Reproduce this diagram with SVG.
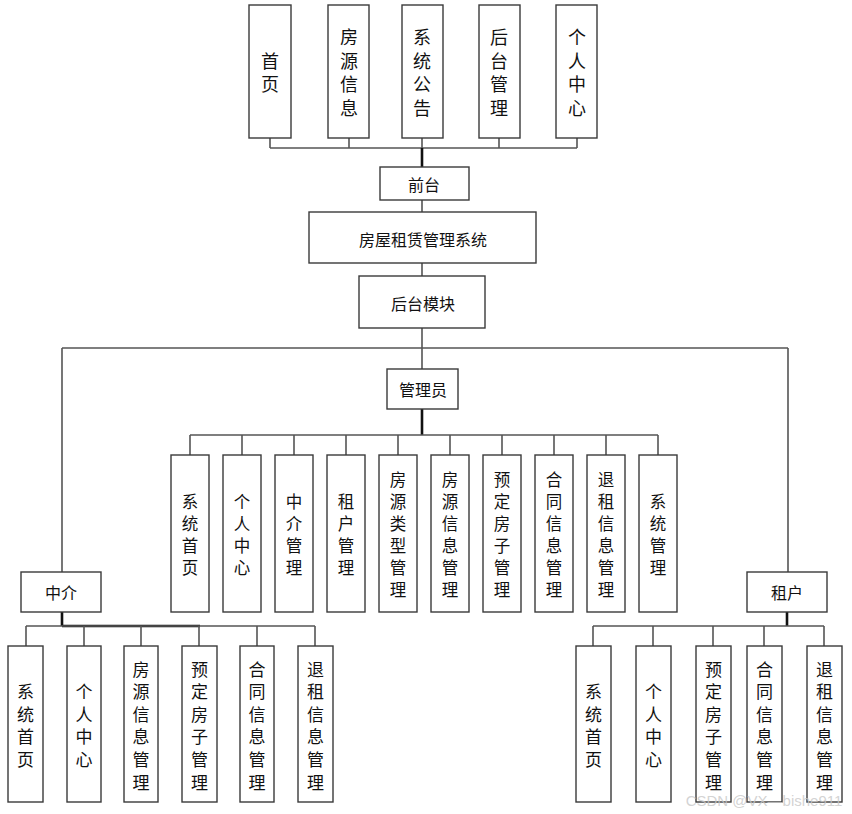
<svg xmlns="http://www.w3.org/2000/svg" width="852" height="814" viewBox="0 0 852 814">
<style>
.b{fill:#fff;stroke:#3a3a3a;stroke-width:1.4}
.t{font-family:"Noto Sans CJK SC","Liberation Sans",sans-serif;fill:#111;text-anchor:middle;dominant-baseline:central}
.f1{font-size:18px}
.f2{font-size:16px}
.f3{font-size:16.5px}
.f4{font-size:17px}
.c{fill:none;stroke:#555;stroke-width:1.6}
.k{fill:none;stroke:#111;stroke-width:2.6}
</style>
<rect width="852" height="814" fill="#fff"/>
<g id="connectors">
<path class="c" d="M270 138V148M349 138V148M499 138V148M577 138V148M422 138V148M270 148H577"/>
<path class="k" d="M422 148V167"/>
<path class="c" d="M422 200V212M422 263V276M422 328V348M62 348H788M62 348V572M788 348V572M422 348V369"/>
<path class="k" d="M422 409V435"/>
<path class="c" d="M190 435H658M190 435V455M242 435V455M294 435V455M346 435V455M398 435V455M450 435V455M502 435V455M554 435V455M606 435V455M658 435V455"/>
<path class="k" d="M62 612V626M62 626H200"/>
<path class="c" d="M26 626H315M26 626V646M84 626V646M141 626V646M199 626V646M257 626V646M315 626V646"/>
<path class="k" d="M787 612V626"/>
<path class="c" d="M593 626H824M593 626V646M653 626V646M713 626V646M764 626V646M824 626V646"/>
</g>
<g id="n_home"><rect class="b" x="249" y="5" width="42" height="133"/><text class="t f1" x="270"><tspan x="270" y="59.75">首</tspan><tspan x="270" y="83.25">页</tspan></text></g>
<g id="n_house"><rect class="b" x="328" y="5" width="41" height="133"/><text class="t f1"><tspan x="349" y="36.25">房</tspan><tspan x="349" y="59.75">源</tspan><tspan x="349" y="83.25">信</tspan><tspan x="349" y="106.75">息</tspan></text></g>
<g id="n_notice"><rect class="b" x="402" y="5" width="41" height="133"/><text class="t f1"><tspan x="422" y="36.25">系</tspan><tspan x="422" y="59.75">统</tspan><tspan x="422" y="83.25">公</tspan><tspan x="422" y="106.75">告</tspan></text></g>
<g id="n_backmgr"><rect class="b" x="479" y="5" width="41" height="133"/><text class="t f1"><tspan x="499" y="36.25">后</tspan><tspan x="499" y="59.75">台</tspan><tspan x="499" y="83.25">管</tspan><tspan x="499" y="106.75">理</tspan></text></g>
<g id="n_personal"><rect class="b" x="556" y="5" width="41" height="133"/><text class="t f1"><tspan x="577" y="36.25">个</tspan><tspan x="577" y="59.75">人</tspan><tspan x="577" y="83.25">中</tspan><tspan x="577" y="106.75">心</tspan></text></g>
<g id="n_front"><rect class="b" x="380" y="167" width="89" height="33"/><text class="t f2" x="424" y="184">前台</text></g>
<g id="n_system"><rect class="b" x="309" y="212" width="227" height="51"/><text class="t f2" x="423" y="239">房屋租赁管理系统</text></g>
<g id="n_backend"><rect class="b" x="359" y="276" width="126" height="52"/><text class="t f2" x="423" y="303">后台模块</text></g>
<g id="n_admin"><rect class="b" x="387" y="369" width="71" height="40"/><text class="t f2" x="423" y="389">管理员</text></g>
<g id="a1"><rect class="b" x="171" y="455" width="38" height="157"/><text class="t f3"><tspan x="190" y="501">系</tspan><tspan x="190" y="523">统</tspan><tspan x="190" y="545">首</tspan><tspan x="190" y="567">页</tspan></text></g>
<g id="a2"><rect class="b" x="223" y="455" width="38" height="157"/><text class="t f3"><tspan x="242" y="501">个</tspan><tspan x="242" y="523">人</tspan><tspan x="242" y="545">中</tspan><tspan x="242" y="567">心</tspan></text></g>
<g id="a3"><rect class="b" x="275" y="455" width="38" height="157"/><text class="t f3"><tspan x="294" y="501">中</tspan><tspan x="294" y="523">介</tspan><tspan x="294" y="545">管</tspan><tspan x="294" y="567">理</tspan></text></g>
<g id="a4"><rect class="b" x="327" y="455" width="38" height="157"/><text class="t f3"><tspan x="346" y="501">租</tspan><tspan x="346" y="523">户</tspan><tspan x="346" y="545">管</tspan><tspan x="346" y="567">理</tspan></text></g>
<g id="a5"><rect class="b" x="379" y="455" width="38" height="157"/><text class="t f3"><tspan x="398" y="479">房</tspan><tspan x="398" y="501">源</tspan><tspan x="398" y="523">类</tspan><tspan x="398" y="545">型</tspan><tspan x="398" y="567">管</tspan><tspan x="398" y="589">理</tspan></text></g>
<g id="a6"><rect class="b" x="431" y="455" width="38" height="157"/><text class="t f3"><tspan x="450" y="479">房</tspan><tspan x="450" y="501">源</tspan><tspan x="450" y="523">信</tspan><tspan x="450" y="545">息</tspan><tspan x="450" y="567">管</tspan><tspan x="450" y="589">理</tspan></text></g>
<g id="a7"><rect class="b" x="483" y="455" width="38" height="157"/><text class="t f3"><tspan x="502" y="479">预</tspan><tspan x="502" y="501">定</tspan><tspan x="502" y="523">房</tspan><tspan x="502" y="545">子</tspan><tspan x="502" y="567">管</tspan><tspan x="502" y="589">理</tspan></text></g>
<g id="a8"><rect class="b" x="535" y="455" width="38" height="157"/><text class="t f3"><tspan x="554" y="479">合</tspan><tspan x="554" y="501">同</tspan><tspan x="554" y="523">信</tspan><tspan x="554" y="545">息</tspan><tspan x="554" y="567">管</tspan><tspan x="554" y="589">理</tspan></text></g>
<g id="a9"><rect class="b" x="587" y="455" width="38" height="157"/><text class="t f3"><tspan x="606" y="479">退</tspan><tspan x="606" y="501">租</tspan><tspan x="606" y="523">信</tspan><tspan x="606" y="545">息</tspan><tspan x="606" y="567">管</tspan><tspan x="606" y="589">理</tspan></text></g>
<g id="a10"><rect class="b" x="639" y="455" width="38" height="157"/><text class="t f3"><tspan x="658" y="501">系</tspan><tspan x="658" y="523">统</tspan><tspan x="658" y="545">管</tspan><tspan x="658" y="567">理</tspan></text></g>
<g id="n_agent"><rect class="b" x="21" y="572" width="80" height="40"/><text class="t f2" x="61" y="592">中介</text></g>
<g id="n_tenant"><rect class="b" x="747" y="572" width="80" height="40"/><text class="t f2" x="787" y="592">租户</text></g>
<g id="l1"><rect class="b" x="8" y="646" width="35" height="156"/><text class="t f4"><tspan x="25.5" y="690">系</tspan><tspan x="25.5" y="712.6">统</tspan><tspan x="25.5" y="735.2">首</tspan><tspan x="25.5" y="757.8">页</tspan></text></g>
<g id="l2"><rect class="b" x="67" y="646" width="34" height="156"/><text class="t f4"><tspan x="84" y="690">个</tspan><tspan x="84" y="712.6">人</tspan><tspan x="84" y="735.2">中</tspan><tspan x="84" y="757.8">心</tspan></text></g>
<g id="l3"><rect class="b" x="124" y="646" width="34" height="156"/><text class="t f4"><tspan x="141" y="667.5">房</tspan><tspan x="141" y="690.1">源</tspan><tspan x="141" y="712.7">信</tspan><tspan x="141" y="735.3">息</tspan><tspan x="141" y="757.9">管</tspan><tspan x="141" y="780.5">理</tspan></text></g>
<g id="l4"><rect class="b" x="182" y="646" width="35" height="156"/><text class="t f4"><tspan x="199.5" y="667.5">预</tspan><tspan x="199.5" y="690.1">定</tspan><tspan x="199.5" y="712.7">房</tspan><tspan x="199.5" y="735.3">子</tspan><tspan x="199.5" y="757.9">管</tspan><tspan x="199.5" y="780.5">理</tspan></text></g>
<g id="l5"><rect class="b" x="240" y="646" width="34" height="156"/><text class="t f4"><tspan x="257" y="667.5">合</tspan><tspan x="257" y="690.1">同</tspan><tspan x="257" y="712.7">信</tspan><tspan x="257" y="735.3">息</tspan><tspan x="257" y="757.9">管</tspan><tspan x="257" y="780.5">理</tspan></text></g>
<g id="l6"><rect class="b" x="298" y="646" width="35" height="156"/><text class="t f4"><tspan x="315.5" y="667.5">退</tspan><tspan x="315.5" y="690.1">租</tspan><tspan x="315.5" y="712.7">信</tspan><tspan x="315.5" y="735.3">息</tspan><tspan x="315.5" y="757.9">管</tspan><tspan x="315.5" y="780.5">理</tspan></text></g>
<g id="r1"><rect class="b" x="576" y="646" width="35" height="156"/><text class="t f4"><tspan x="593.5" y="690">系</tspan><tspan x="593.5" y="712.6">统</tspan><tspan x="593.5" y="735.2">首</tspan><tspan x="593.5" y="757.8">页</tspan></text></g>
<g id="r2"><rect class="b" x="636" y="646" width="35" height="156"/><text class="t f4"><tspan x="653.5" y="690">个</tspan><tspan x="653.5" y="712.6">人</tspan><tspan x="653.5" y="735.2">中</tspan><tspan x="653.5" y="757.8">心</tspan></text></g>
<g id="r3"><rect class="b" x="696" y="646" width="35" height="156"/><text class="t f4"><tspan x="713.5" y="667.5">预</tspan><tspan x="713.5" y="690.1">定</tspan><tspan x="713.5" y="712.7">房</tspan><tspan x="713.5" y="735.3">子</tspan><tspan x="713.5" y="757.9">管</tspan><tspan x="713.5" y="780.5">理</tspan></text></g>
<g id="r4"><rect class="b" x="747" y="646" width="35" height="156"/><text class="t f4"><tspan x="764.5" y="667.5">合</tspan><tspan x="764.5" y="690.1">同</tspan><tspan x="764.5" y="712.7">信</tspan><tspan x="764.5" y="735.3">息</tspan><tspan x="764.5" y="757.9">管</tspan><tspan x="764.5" y="780.5">理</tspan></text></g>
<g id="r5"><rect class="b" x="807" y="646" width="35" height="156"/><text class="t f4"><tspan x="824.5" y="667.5">退</tspan><tspan x="824.5" y="690.1">租</tspan><tspan x="824.5" y="712.7">信</tspan><tspan x="824.5" y="735.3">息</tspan><tspan x="824.5" y="757.9">管</tspan><tspan x="824.5" y="780.5">理</tspan></text></g>
<text x="764" y="800" font-family="Liberation Sans,sans-serif" font-size="15" fill="#c8c8c8" fill-opacity="0.8" text-anchor="middle" dominant-baseline="central">CSDN @VX—bishe911</text>
</svg>
